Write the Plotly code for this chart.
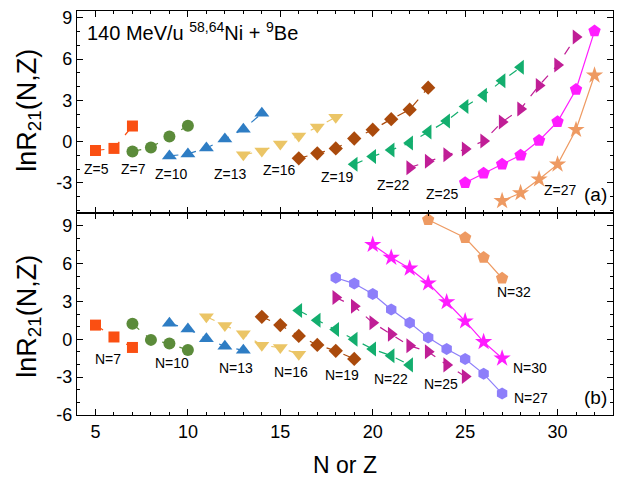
import plotly.graph_objects as go

# ---------------- panel (a): lnR21 versus N at fixed Z ----------------
z5_n = [5, 6, 7]
z5_v = [-0.65, -0.50, 1.13]
z7_n = [7, 8, 9, 10]
z7_v = [-0.72, -0.43, 0.36, 1.15]
z10_n = [9, 10, 11, 12, 13, 14]
z10_v = [-1.05, -0.90, -0.47, 0.18, 0.90, 2.05]
z13_n = [13, 14, 15, 16, 17, 18]
z13_v = [-0.97, -0.68, -0.18, 0.40, 1.05, 1.77]
z16_n = [16, 17, 18, 19, 20, 21, 22, 23]
z16_v = [-1.22, -0.86, -0.50, 0.22, 0.86, 1.63, 2.32, 3.92]
z19_n = [19, 20, 21, 22, 23, 24, 25, 26, 27, 28]
z19_v = [-1.66, -1.08, -0.62, -0.10, 0.69, 1.50, 2.55, 3.37, 4.42, 5.40]
z22_n = [22, 23, 24, 25, 26, 27, 28, 29, 30, 31]
z22_v = [-1.90, -1.44, -0.96, -0.55, 0.04, 1.42, 2.37, 4.08, 5.57, 7.61]
z25_n = [25, 26, 27, 28, 29, 30, 31, 32]
z25_v = [-3.00, -2.30, -1.65, -1.00, 0.07, 1.44, 3.79, 8.04]
z27_n = [27, 28, 29, 30, 31, 32]
z27_v = [-4.32, -3.74, -2.74, -1.66, 0.86, 4.82]

# ---------------- panel (b): lnR21 versus Z at fixed N ----------------
n7_z = [5, 6, 7]
n7_v = [1.12, 0.18, -0.65]
n10_z = [7, 8, 9, 10]
n10_v = [1.23, -0.05, -0.34, -0.86]
n13_z = [9, 10, 11, 12, 13]
n13_v = [1.27, 0.82, 0.04, -0.56, -0.88]
n16_z = [11, 12, 13, 14, 15, 16]
n16_v = [1.78, 1.08, 0.43, -0.48, -0.66, -1.19]
n19_z = [14, 15, 16, 17, 18, 19]
n19_v = [1.78, 1.12, 0.26, -0.45, -0.92, -1.56]
n22_z = [16, 17, 18, 19, 20, 21, 22]
n22_v = [2.27, 1.51, 0.78, 0.00, -0.78, -1.31, -2.03]
n25_z = [18, 19, 20, 21, 22, 23, 24, 25]
n25_v = [3.31, 2.61, 1.31, 0.39, -0.52, -0.99, -2.03, -2.95]
n27_z = [18, 19, 20, 21, 22, 23, 24, 25, 26, 27]
n27_v = [4.87, 4.41, 3.58, 2.35, 1.31, 0.13, -0.78, -1.56, -2.74, -4.30]
n30_z = [20, 21, 22, 23, 24, 25, 26, 27]
n30_v = [7.49, 6.47, 5.61, 4.44, 2.95, 1.43, -0.21, -1.51]
n32_z = [23, 25, 26, 27]
n32_v = [9.47, 8.04, 6.47, 4.83]

# tick labels
x_ticks = [5, 10, 15, 20, 25, 30]
ya_ticks = [-3, 0, 3, 6, 9]
yb_ticks = [-6, -3, 0, 3, 6, 9]

# colours
C_ORANGE = "#FA4F12"
C_OLIVE = "#5B8B3A"
C_BLUE = "#2E7DC4"
C_GOLD = "#EBC566"
C_BROWN = "#AA4A0C"
C_GREEN = "#13AE6E"
C_PURPLE = "#C01E96"
C_MAGENTA = "#FF1CFF"
C_SAND = "#EE9A62"
C_LAVENDER = "#8D7EFA"

FONT = "Liberation Sans, Arial, sans-serif"

series_a = [
    (z5_n, z5_v, "square", C_ORANGE, 11, "dash"),
    (z7_n, z7_v, "circle", C_OLIVE, 12, "dash"),
    (z10_n, z10_v, "triangle-up", C_BLUE, 13, "dash"),
    (z13_n, z13_v, "triangle-down", C_GOLD, 13, "dash"),
    (z16_n, z16_v, "diamond", C_BROWN, 11, "dash"),
    (z19_n, z19_v, "triangle-left", C_GREEN, 13, "dash"),
    (z22_n, z22_v, "triangle-right", C_PURPLE, 13, "dash"),
    (z25_n, z25_v, "pentagon", C_MAGENTA, 13, "solid"),
    (z27_n, z27_v, "star", C_SAND, 13, "solid"),
]

series_b = [
    (n7_z, n7_v, "square", C_ORANGE, 11, "dash"),
    (n10_z, n10_v, "circle", C_OLIVE, 12, "dash"),
    (n13_z, n13_v, "triangle-up", C_BLUE, 13, "dash"),
    (n16_z, n16_v, "triangle-down", C_GOLD, 13, "dash"),
    (n19_z, n19_v, "diamond", C_BROWN, 11, "dash"),
    (n22_z, n22_v, "triangle-left", C_GREEN, 13, "dash"),
    (n25_z, n25_v, "triangle-right", C_PURPLE, 13, "dash"),
    (n27_z, n27_v, "hexagon", C_LAVENDER, 12, "solid"),
    (n30_z, n30_v, "star", C_MAGENTA, 13, "solid"),
    (n32_z, n32_v, "pentagon", C_SAND, 13, "solid"),
]

fig = go.Figure()


def add_series(items, xa, ya):
    for xs, ys, sym, col, size, dash in items:
        fig.add_trace(go.Scatter(
            x=xs, y=ys, mode="lines+markers", xaxis=xa, yaxis=ya,
            line=dict(color=col, width=1.2, dash=dash),
            marker=dict(symbol=sym, color=col, size=size, line=dict(width=0)),
            hoverinfo="skip",
        ))


add_series(series_a, "x2", "y")
add_series(series_b, "x", "y2")

axis_common = dict(
    showline=True, linecolor="black", linewidth=1.3, mirror="ticks",
    ticks="inside", ticklen=6, tickwidth=1.2, tickcolor="black",
    showgrid=False, zeroline=False,
    tickfont=dict(family=FONT, size=18, color="black"),
)
minor_ticks = dict(tickmode="linear", tick0=0, dtick=1, ticks="inside",
                   ticklen=3, tickwidth=1, tickcolor="black")

fig.update_layout(
    width=632, height=482,
    margin=dict(l=77, r=19, t=8, b=66),
    plot_bgcolor="white", paper_bgcolor="white",
    showlegend=False,
    xaxis=dict(
        axis_common, domain=[0, 1], anchor="y2", range=[4, 33],
        tickmode="array", tickvals=x_ticks, ticktext=[str(v) for v in x_ticks],
        minor=minor_ticks,
        title=dict(text="N or Z", font=dict(family=FONT, size=23, color="black"),
                   standoff=16),
    ),
    xaxis2=dict(
        axis_common, domain=[0, 1], anchor="y", matches="x", range=[4, 33],
        tickmode="array", tickvals=x_ticks, showticklabels=False,
        minor=minor_ticks,
    ),
    yaxis=dict(
        axis_common, domain=[0.5, 1], anchor="x2", range=[-5.2, 9.5],
        tickmode="array", tickvals=ya_ticks, ticktext=[str(v) for v in ya_ticks],
        minor=minor_ticks,
    ),
    yaxis2=dict(
        axis_common, domain=[0, 0.5], anchor="x", range=[-6, 10],
        tickmode="array", tickvals=yb_ticks, ticktext=[str(v) for v in yb_ticks],
        minor=minor_ticks,
    ),
)

# y-axis titles, one per panel
for yc in (0.755, 0.245):
    fig.add_annotation(
        text="lnR<sub>21</sub>(N,Z)", xref="paper", yref="paper",
        x=-0.09, y=yc, xanchor="center", yanchor="middle", textangle=-90,
        showarrow=False, font=dict(family=FONT, size=27, color="black"),
    )

# reaction label
fig.add_annotation(
    text="140 MeV/u <sup>58,64</sup>Ni + <sup>9</sup>Be",
    xref="x2", yref="y", x=4.43, y=8.0, xanchor="left", yanchor="middle",
    showarrow=False, font=dict(family=FONT, size=20, color="black"),
)

# isotope-chain labels, panel (a)
labels_a = [
    ("Z=5", 5.08, -2.03), ("Z=7", 7.03, -2.03), ("Z=10", 9.09, -2.39),
    ("Z=13", 12.28, -2.39), ("Z=16", 14.93, -2.10), ("Z=19", 18.12, -2.60),
    ("Z=22", 21.10, -3.18), ("Z=25", 23.75, -3.83), ("Z=27", 30.14, -3.54),
]
for txt, x, y in labels_a:
    fig.add_annotation(text=txt, xref="x2", yref="y", x=x, y=y, showarrow=False,
                       font=dict(family=FONT, size=14, color="black"))
fig.add_annotation(text="(a)", xref="x2", yref="y", x=32.03, y=-3.83,
                   showarrow=False, font=dict(family=FONT, size=19, color="black"))

# isotone-chain labels, panel (b)
labels_b = [
    ("N=7", 5.68, -1.53), ("N=10", 9.14, -1.92), ("N=13", 12.60, -2.31),
    ("N=16", 15.58, -2.63), ("N=19", 18.34, -2.86), ("N=22", 20.99, -3.18),
    ("N=25", 23.70, -3.57), ("N=27", 28.57, -4.67), ("N=30", 28.51, -2.24),
    ("N=32", 27.65, 3.73),
]
for txt, x, y in labels_b:
    fig.add_annotation(text=txt, xref="x", yref="y2", x=x, y=y, showarrow=False,
                       font=dict(family=FONT, size=14, color="black"))
fig.add_annotation(text="(b)", xref="x", yref="y2", x=32.03, y=-4.59,
                   showarrow=False, font=dict(family=FONT, size=19, color="black"))

fig.write_html("out.html")
